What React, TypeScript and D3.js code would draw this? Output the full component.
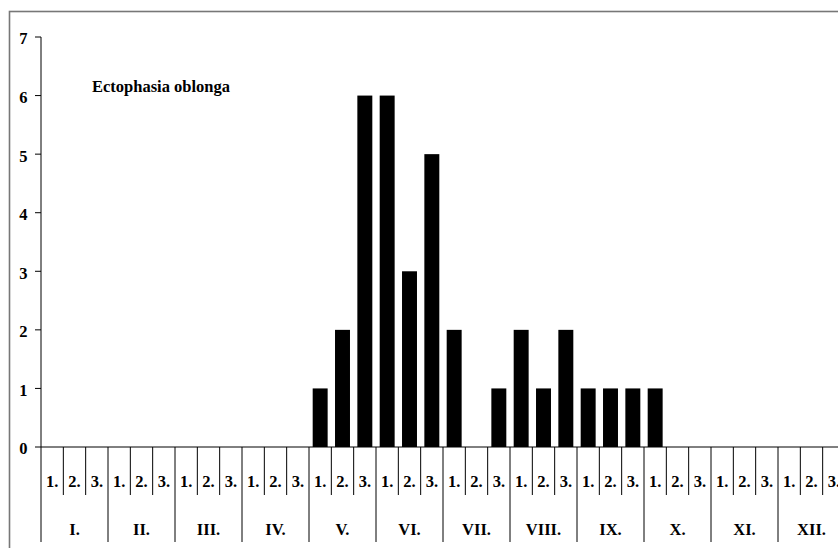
import React from "react";
import * as d3 from "d3";

const title = "Ectophasia oblonga";
const months = ["I.", "II.", "III.", "IV.", "V.", "VI.", "VII.", "VIII.", "IX.", "X.", "XI.", "XII."];
const decades = ["1.", "2.", "3."];
const values = [
  0, 0, 0, // I
  0, 0, 0, // II
  0, 0, 0, // III
  0, 0, 0, // IV
  1, 2, 6, // V
  6, 3, 5, // VI
  2, 0, 1, // VII
  2, 1, 2, // VIII
  1, 1, 1, // IX
  1, 0, 0, // X
  0, 0, 0, // XI
  0, 0, 0, // XII
];
const yTicks = [0, 1, 2, 3, 4, 5, 6, 7];

const W = 838;
const H = 548;
const x0 = 41;
const x1 = 845;
const yBottom = 447;
const yTop = 37;
const font = "'Liberation Serif', 'DejaVu Serif', serif";
const fs = 16.5;

export default function App() {
  const n = values.length;
  const idx = d3.range(n);
  const xBand = d3.scaleBand<number>().domain(idx).range([x0, x1]).paddingInner(0.33).paddingOuter(0.165);
  const xb = d3.scaleLinear().domain([0, n]).range([x0, x1]);
  const y = d3.scaleLinear().domain([0, 7]).range([yBottom, yTop]);

  return (
    <svg width={W} height={H} style={{ position: "absolute", left: 0, top: 0, background: "#fff" }}>
      <rect x={9.5} y={11.5} width={W + 20} height={H + 20} fill="#fff" stroke="#777" strokeWidth={1.6} />
      {idx.map((i) =>
        values[i] > 0 ? (
          <rect key={i} x={xBand(i)} y={y(values[i])} width={xBand.bandwidth()} height={y(0) - y(values[i])} fill="#000" />
        ) : null
      )}
      <line x1={x0} x2={x0} y1={y(7)} y2={542} stroke="#000" strokeWidth={1} />
      {yTicks.map((t) => (
        <g key={t}>
          <line x1={x0 - 6} x2={x0} y1={y(t)} y2={y(t)} stroke="#000" strokeWidth={1} />
          <text x={27.5} y={y(t)} dy="0.45em" textAnchor="end" fontFamily={font} fontWeight="bold" fontSize={fs}>
            {t}
          </text>
        </g>
      ))}
      <line x1={x0} x2={x1} y1={yBottom} y2={yBottom} stroke="#000" strokeWidth={1} />
      {d3.range(1, n + 1).map((b) => (
        <line
          key={b}
          x1={xb(b)}
          x2={xb(b)}
          y1={yBottom}
          y2={b % 3 === 0 ? 542 : 495}
          stroke="#000"
          strokeWidth={1}
        />
      ))}
      {idx.map((i) => (
        <text key={"d" + i} x={xb(i + 0.5)} y={487} textAnchor="middle" fontFamily={font} fontWeight="bold" fontSize={fs}>
          {decades[i % 3]}
        </text>
      ))}
      {months.map((m, k) => (
        <text key={m} x={xb(k * 3 + 1.5)} y={535} textAnchor="middle" fontFamily={font} fontWeight="bold" fontSize={fs}>
          {m}
        </text>
      ))}
      <text x={92} y={92} fontFamily={font} fontWeight="bold" fontSize={fs}>
        {title}
      </text>
    </svg>
  );
}
